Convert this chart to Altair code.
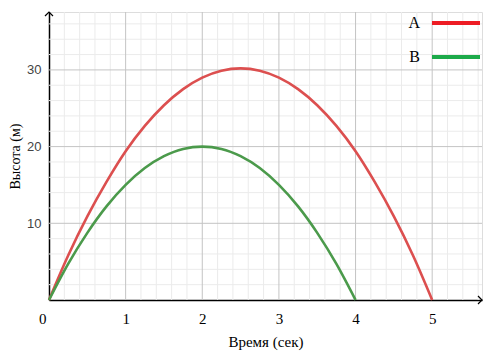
import altair as alt
import pandas as pd

# ---- data ----
time_a = [0, 0.25, 0.5, 0.75, 1, 1.25, 1.5, 1.75, 2, 2.25, 2.5, 2.75, 3, 3.25, 3.5, 3.75, 4, 4.25, 4.5, 4.75, 5]
height_a = [0, 5.8, 10.9, 15.4, 19.4, 22.7, 25.4, 27.5, 29.0, 29.9, 30.2, 29.9, 29.0, 27.5, 25.4, 22.7, 19.4, 15.4, 10.9, 5.8, 0]
time_b = [0, 0.25, 0.5, 0.75, 1, 1.25, 1.5, 1.75, 2, 2.25, 2.5, 2.75, 3, 3.25, 3.5, 3.75, 4]
height_b = [0, 4.7, 8.75, 12.2, 15.0, 17.2, 18.75, 19.7, 20.0, 19.7, 18.75, 17.2, 15.0, 12.2, 8.75, 4.7, 0]

series_names = ["A", "B"]
curve_colors = ["#dc4f4f", "#4b9a4b"]
legend_colors = ["#ed1c24", "#1caa4a"]

x_tick_values = [0, 1, 2, 3, 4, 5]
y_tick_values = [10, 20, 30]
major_x = [1, 2, 3, 4, 5]
major_y = [10, 20, 30]
minor_x = [0.2, 0.4, 0.6, 0.8, 1.2, 1.4, 1.6, 1.8, 2.2, 2.4, 2.6, 2.8, 3.2, 3.4, 3.6, 3.8,
           4.2, 4.4, 4.6, 4.8, 5.2, 5.4, 5.6]
minor_y = [2, 4, 6, 8, 12, 14, 16, 18, 22, 24, 26, 28, 32, 34, 36]
x_max = 5.65
y_max = 37.55

curves = pd.concat([
    pd.DataFrame({"t": time_a, "h": height_a, "series": "A"}),
    pd.DataFrame({"t": time_b, "h": height_b, "series": "B"}),
], ignore_index=True)

x_scale = alt.Scale(domain=[0, x_max], nice=False, zero=False)
y_scale = alt.Scale(domain=[0, y_max], nice=False, zero=False)

x_axis = alt.Axis(
    values=x_tick_values, grid=False, ticks=False, format="d",
    domainColor="black", domainWidth=1.5,
    labelFont="Liberation Serif", labelFontSize=15, labelColor="black",
    labelPadding=11, labelFlush=False,
    labelAlign={"condition": {"test": "datum.value == 0", "value": "right"}, "value": "center"},
    labelOffset={"condition": {"test": "datum.value == 0", "value": -3}, "value": 0},
    title="Время (сек)", titleFont="Liberation Serif", titleFontSize=15,
    titleFontWeight="normal", titleColor="black", titlePadding=8,
)
y_axis = alt.Axis(
    values=y_tick_values, grid=False, ticks=False, format="d",
    domainColor="black", domainWidth=1.5,
    labelFont="Liberation Sans", labelFontSize=13, labelColor="#444444",
    labelPadding=8,
    title="Высота (м)", titleFont="Liberation Serif", titleFontSize=14,
    titleFontWeight="normal", titleColor="black", titlePadding=4,
)

X = lambda f: alt.X(f, scale=x_scale, axis=x_axis)
Y = lambda f: alt.Y(f, scale=y_scale, axis=y_axis)

minor_x_rules = alt.Chart(pd.DataFrame({"v": minor_x})).mark_rule(
    color="#ebebeb", strokeWidth=1).encode(x=X("v:Q"))
minor_y_rules = alt.Chart(pd.DataFrame({"v": minor_y})).mark_rule(
    color="#ebebeb", strokeWidth=1).encode(y=Y("v:Q"))
major_x_rules = alt.Chart(pd.DataFrame({"v": major_x})).mark_rule(
    color="#c4c4c4", strokeWidth=1).encode(x=X("v:Q"))
major_y_rules = alt.Chart(pd.DataFrame({"v": major_y})).mark_rule(
    color="#c4c4c4", strokeWidth=1).encode(y=Y("v:Q"))

lines = alt.Chart(curves).mark_line(strokeWidth=2.6, interpolate="monotone").encode(
    x=X("t:Q"), y=Y("h:Q"),
    color=alt.Color("series:N", scale=alt.Scale(domain=series_names, range=curve_colors), legend=None),
)

legend_layer = alt.Chart(curves).transform_filter("false").mark_line().encode(
    x=X("t:Q"), y=Y("h:Q"),
    color=alt.Color(
        "series:N",
        scale=alt.Scale(domain=series_names, range=legend_colors),
        legend=alt.Legend(
            title=None, orient="none", legendX=381, legendY=-15,
            symbolType="M-1,0H1", symbolSize=2304, symbolStrokeWidth=4, symbolOpacity=1,
            labelOffset={"expr": "-62"}, labelAlign="right",
            labelFont="Liberation Serif", labelFontSize=16, labelColor="black",
            rowPadding={"expr": "-1"},
        ),
    ),
)

arrow_x = alt.Chart(pd.DataFrame({"x": [x_max], "y": [0]})).mark_point(
    shape="M-1,-1L0,0L-1,1", size=64, filled=False, color="black", strokeWidth=1.2, opacity=1
).encode(x=X("x:Q"), y=Y("y:Q"))
arrow_y = alt.Chart(pd.DataFrame({"x": [0], "y": [y_max]})).mark_point(
    shape="M-1,1L0,0L1,1", size=64, filled=False, color="black", strokeWidth=1.2, opacity=1
).encode(x=X("x:Q"), y=Y("y:Q"))

chart = alt.layer(
    minor_x_rules, minor_y_rules, major_x_rules, major_y_rules,
    lines, legend_layer, arrow_x, arrow_y,
).resolve_scale(color="independent").properties(
    width=433, height=288,
    padding={"left": 41, "top": 4, "right": 4, "bottom": 52},
    autosize=alt.AutoSizeParams(type="none"),
).configure_view(stroke=None).configure(background="white").configure_axisX(
    labelFont="Liberation Serif", titleFont="Liberation Serif"
)

chart.save("out.html", embed_options={"renderer": "svg", "actions": False})
